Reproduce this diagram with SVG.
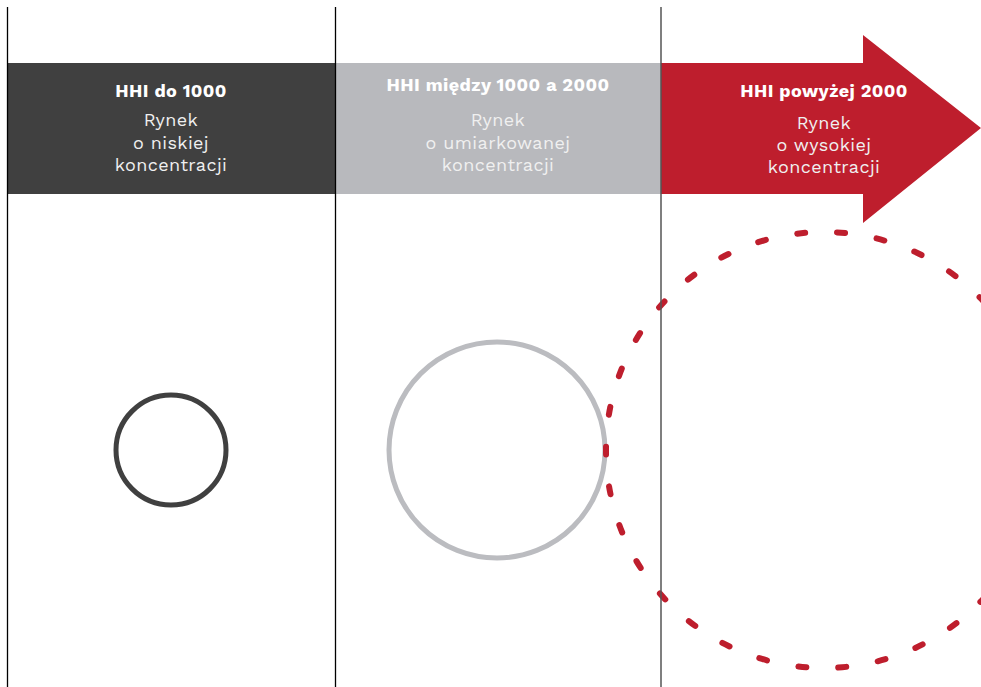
<svg xmlns="http://www.w3.org/2000/svg" width="981" height="687" viewBox="0 0 981 687">
<style>
.t{font-family:"Work Sans","Open Sans","Noto Sans",sans-serif;font-weight:700;font-size:18px;letter-spacing:0.4px;fill:#ffffff;text-anchor:middle}
.b{font-family:"Work Sans","Open Sans","Noto Sans",sans-serif;font-weight:400;font-size:18px;letter-spacing:0.4px;fill:#f0f0f0;text-anchor:middle}
</style>
<rect width="981" height="687" fill="#ffffff"/>
<g id="col-low">
<rect x="8" y="63" width="327" height="131" fill="#404040"/>
<text class="t" x="171" y="97">HHI do 1000</text>
<text class="b" x="171" y="126">Rynek</text>
<text class="b" x="171" y="149">o niskiej</text>
<text class="b" x="171" y="171">koncentracji</text>
<circle cx="171" cy="450" r="55" fill="none" stroke="#404040" stroke-width="5"/>
</g>
<g id="col-mid">
<rect x="335" y="63" width="326" height="131" fill="#b8b9bd"/>
<text class="t" x="498" y="91">HHI między 1000 a 2000</text>
<text class="b" x="498" y="126">Rynek</text>
<text class="b" x="498" y="149">o umiarkowanej</text>
<text class="b" x="498" y="171">koncentracji</text>
<circle cx="497" cy="450" r="108" fill="none" stroke="#bbbcc0" stroke-width="5"/>
</g>
<g id="col-high">
<polygon points="661,63 863,63 863,35 981,128 863,223 863,194 661,194" fill="#be1e2d"/>
<text class="t" x="824" y="97">HHI powyżej 2000</text>
<text class="b" x="824" y="129">Rynek</text>
<text class="b" x="824" y="151">o wysokiej</text>
<text class="b" x="824" y="173">koncentracji</text>
<circle cx="824" cy="450" r="218" fill="none" stroke="#be1e2d" stroke-width="6" stroke-linecap="round" stroke-dasharray="8 32"/>
</g>
<g id="connectors">
<line x1="7.5" y1="7" x2="7.5" y2="687" stroke="#000" stroke-width="1.3"/>
<line x1="335.5" y1="7" x2="335.5" y2="687" stroke="#000" stroke-width="1.3"/>
<line x1="661" y1="7" x2="661" y2="687" stroke="#555" stroke-width="1.5"/>
</g>
</svg>
